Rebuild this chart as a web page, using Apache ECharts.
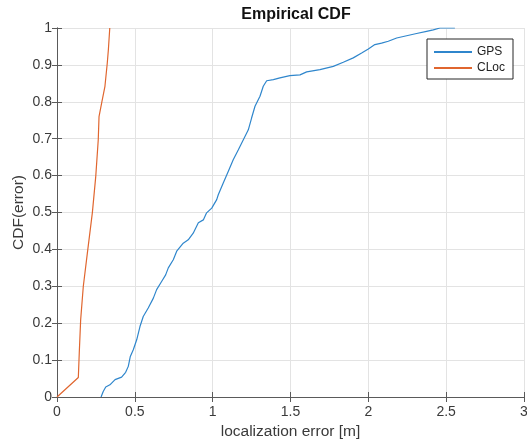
<!DOCTYPE html>
<html>
<head>
<meta charset="utf-8">
<script src="https://cdn.jsdelivr.net/npm/echarts@6/dist/echarts.min.js"></script>
<style>
  html, body { margin: 0; padding: 0; background: #fff; }
  #chart { width: 527px; height: 445px; }
</style>
</head>
<body>
<div id="chart"></div>
<script>
// GPS empirical CDF [error m, cdf]
const gpsX = [0.283, 0.297, 0.313, 0.340, 0.373, 0.415, 0.441, 0.458, 0.471, 0.490,
  0.512, 0.533, 0.554, 0.586, 0.619, 0.640, 0.672, 0.698, 0.715, 0.747,
  0.769, 0.811, 0.843, 0.875, 0.908, 0.940, 0.961, 0.994, 1.026, 1.036,
  1.068, 1.100, 1.132, 1.165, 1.197, 1.229, 1.250, 1.272, 1.304, 1.325,
  1.347, 1.390, 1.432, 1.496, 1.561, 1.604, 1.689, 1.775, 1.839, 1.903,
  1.957, 2.000, 2.042, 2.085, 2.128, 2.182, 2.246, 2.310, 2.374, 2.417,
  2.460, 2.556]
const gpsY = [0.000, 0.015, 0.027, 0.033, 0.047, 0.054, 0.067, 0.083, 0.110, 0.128,
  0.155, 0.191, 0.218, 0.241, 0.268, 0.291, 0.313, 0.331, 0.350, 0.372,
  0.395, 0.417, 0.426, 0.444, 0.472, 0.480, 0.499, 0.512, 0.535, 0.548,
  0.580, 0.611, 0.643, 0.670, 0.697, 0.724, 0.756, 0.788, 0.815, 0.842,
  0.857, 0.860, 0.865, 0.871, 0.873, 0.881, 0.887, 0.896, 0.907, 0.919,
  0.932, 0.943, 0.955, 0.959, 0.964, 0.973, 0.979, 0.985, 0.991, 0.995,
  1.000, 1.000]

// CLoc empirical CDF
const clocX = [0, 0.137, 0.143, 0.152, 0.169, 0.195, 0.227, 0.249, 0.265, 0.270,
  0.287, 0.308, 0.323, 0.330, 0.339]
const clocY = [0, 0.053, 0.119, 0.209, 0.300, 0.390, 0.499, 0.598, 0.697, 0.760,
  0.797, 0.842, 0.905, 0.941, 1.000]

const seriesNames = ['GPS', 'CLoc']
const xTicks = [0, 0.5, 1, 1.5, 2, 2.5, 3]
const yTicks = [0, 0.1, 0.2, 0.3, 0.4, 0.5, 0.6, 0.7, 0.8, 0.9, 1]

const pairs = (xs, ys) => xs.map((x, i) => [x, ys[i]])

let myChart = echarts.init(document.getElementById('chart'))
const font = 'Liberation Sans, Arial, sans-serif'
const axisColor = '#5a5a5a'
const textColor = '#3a3a3a'

myChart.setOption({
  animation: false,
  textStyle: { fontFamily: font },
  title: {
    text: 'Empirical CDF',
    left: 291,
    textAlign: 'center',
    top: 2,
    textStyle: { fontSize: 16, fontWeight: 'bold', color: '#111', fontFamily: font }
  },
  legend: {
    data: seriesNames,
    orient: 'vertical',
    left: 427,
    top: 39,
    icon: 'rect',
    itemWidth: 38,
    itemHeight: 2,
    itemGap: 4,
    padding: [7, 8, 5, 7],
    borderColor: '#262626',
    borderWidth: 1,
    backgroundColor: '#fff',
    textStyle: { fontSize: 12, color: '#222', fontFamily: font }
  },
  grid: {
    left: 57,
    right: 3,
    top: 28,
    bottom: 48,
    outerBoundsMode: 'none'
  },
  xAxis: [
    {
      type: 'value',
      min: 0,
      max: 3,
      interval: 0.5,
      name: 'localization error [m]',
      nameLocation: 'middle',
      nameGap: 27,
      nameMoveOverlap: false,
      nameTextStyle: { fontSize: 15.5, color: textColor },
      axisLine: { show: true, onZero: false, lineStyle: { color: axisColor, width: 1 } },
      axisTick: { show: true, inside: true, length: 5, lineStyle: { color: axisColor } },
      axisLabel: { fontSize: 14, color: textColor, margin: 8 },
      splitLine: { show: true, lineStyle: { color: '#e3e3e3', width: 1 } }
    },
    {
      type: 'value',
      position: 'top',
      min: 0,
      max: 3,
      interval: 0.5,
      axisLine: { show: true, lineStyle: { color: axisColor, width: 1 } },
      axisTick: { show: true, inside: true, length: 5, lineStyle: { color: axisColor } },
      axisLabel: { show: false },
      splitLine: { show: false }
    }
  ],
  yAxis: [
    {
      type: 'value',
      min: 0,
      max: 1,
      interval: 0.1,
      name: 'CDF(error)',
      nameLocation: 'middle',
      nameGap: 30,
      nameMoveOverlap: false,
      nameTextStyle: { fontSize: 15.5, color: textColor },
      axisLine: { show: true, onZero: false, lineStyle: { color: axisColor, width: 1 } },
      axisTick: { show: true, inside: true, length: 5, lineStyle: { color: axisColor } },
      axisLabel: {
        fontSize: 14,
        color: textColor,
        margin: 5,
        formatter: v => String(Math.round(v * 10) / 10)
      },
      splitLine: { show: true, lineStyle: { color: '#e3e3e3', width: 1 } }
    },
    {
      type: 'value',
      position: 'right',
      min: 0,
      max: 1,
      interval: 0.1,
      axisLine: { show: true, lineStyle: { color: axisColor, width: 1 } },
      axisTick: { show: true, inside: true, length: 5, lineStyle: { color: axisColor } },
      axisLabel: { show: false },
      splitLine: { show: false }
    }
  ],
  series: [
    {
      name: seriesNames[0],
      type: 'line',
      data: pairs(gpsX, gpsY),
      symbol: 'none',
      lineStyle: { color: '#2f86cc', width: 1.2 },
      itemStyle: { color: '#2f86cc' }
    },
    {
      name: seriesNames[1],
      type: 'line',
      data: pairs(clocX, clocY),
      symbol: 'none',
      lineStyle: { color: '#e0662f', width: 1.2 },
      itemStyle: { color: '#e0662f' }
    }
  ]
})
</script>
</body>
</html>
